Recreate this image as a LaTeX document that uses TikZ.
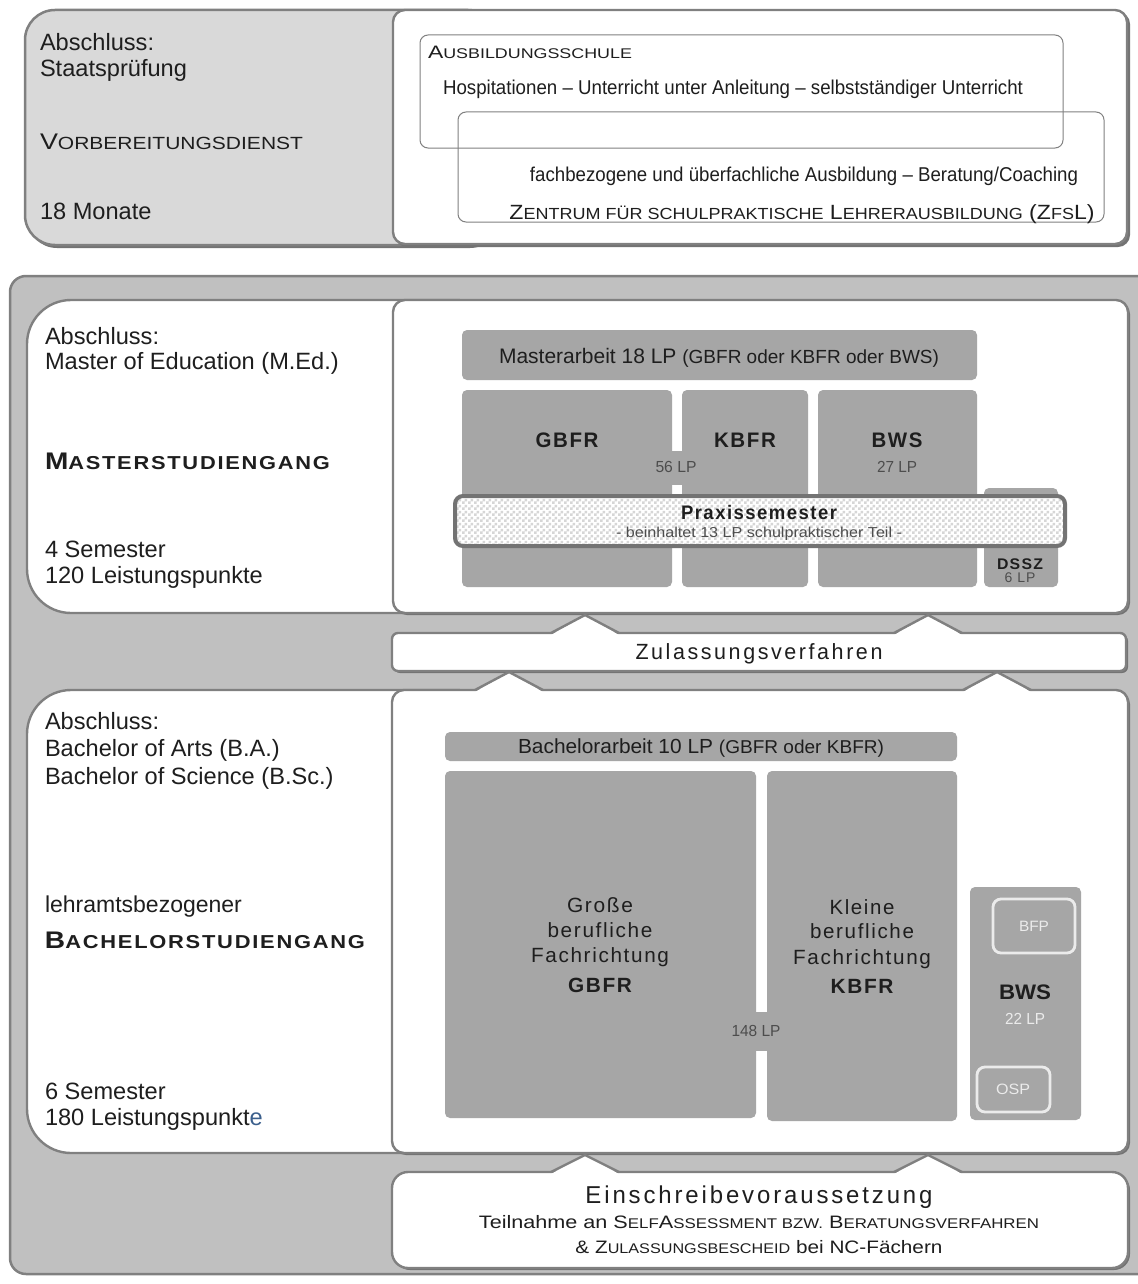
\documentclass[tikz,border=0pt]{standalone}
\usepackage{fontspec}
\setmainfont{Liberation Sans}
\newfontfamily\spacedA[LetterSpace=8]{Liberation Sans}
\newfontfamily\spacedB[LetterSpace=12]{Liberation Sans}
\usepackage{graphicx}
\usetikzlibrary{patterns}
\pgfdeclarepatternformonly{finecheck}{\pgfpointorigin}{\pgfpoint{3pt}{3pt}}{\pgfpoint{3pt}{3pt}}{%
  \pgfpathrectangle{\pgfpointorigin}{\pgfpoint{1.5pt}{1.5pt}}%
  \pgfpathrectangle{\pgfpoint{1.5pt}{1.5pt}}{\pgfpoint{1.5pt}{1.5pt}}%
  \pgfusepath{fill}}
\definecolor{panelgray}{HTML}{C0C0C0}
\definecolor{topgray}{HTML}{D9D9D9}
\definecolor{blk}{HTML}{A6A6A6}
\definecolor{edge}{HTML}{808080}
\definecolor{ink}{HTML}{1E1E1E}
\definecolor{lpgray}{HTML}{4D4D4D}
\definecolor{lplight}{HTML}{EBEBEB}
\definecolor{blueE}{HTML}{3B5F8C}
\newcommand\sm[1]{\scalebox{0.78}{#1}}
\newcommand\fw[2]{\resizebox{#1}{\height}{#2}}
\newcommand\fs[1]{\fontsize{#1}{#1}\selectfont}
\newcommand\bx[7][]{\node[#1, minimum width={(#5-#3)*0.5pt}, minimum height={(#6-#4)*0.5pt}, inner sep=0pt, outer sep=0pt] (#2) at ({(#3+#5)/2},{(#4+#6)/2}) {#7};}
\tikzset{
  graypart/.style={fill=topgray, draw=edge, line width=1.25pt, rounded corners=15pt},
  whitebox/.style={fill=white, draw=edge, line width=1.2pt, rounded corners=#1},
  whitebox/.default=6pt,
  dropsh/.style={fill=black!55, draw=none, rounded corners=#1},
  dropsh/.default=6pt,
  panelst/.style={fill=panelgray, draw=edge, line width=1.25pt, rounded corners=8pt},
  thinbox/.style={draw=edge, line width=0.5pt, rounded corners=4pt},
  block/.style={fill=blk, rounded corners=2.5pt},
  praxis/.style={preaction={fill=white}, pattern=finecheck, pattern color=black!16, draw=black!55, line width=2pt, rounded corners=4pt},
  inbox/.style={fill=blk, draw=lplight, line width=1.4pt, rounded corners=4pt},
  tri/.style={draw=edge, line width=1.2pt, line join=miter},
  lbl/.style={inner sep=0pt, outer sep=0pt, text depth=0pt, text=ink},
}
\newcommand\tri[3]{\fill[white] ({#1-34},{#3+2}) -- (#1,#2) -- ({#1+34},{#3+2}) -- cycle;
  \draw[tri] ({#1-34},#3) -- (#1,#2) -- ({#1+34},#3);}
\begin{document}
\begin{tikzpicture}[x=0.5pt,y=-0.5pt]
\useasboundingbox (0,0) rectangle (1137,1284);
\fill[white] (0,0) rectangle (1137,1284);

% ---------- Vorbereitungsdienst ----------
\bx[dropsh=15pt]{tlsh}{27}{12}{500}{248}{}
\bx[graypart]{tl}{25}{10}{498}{245}{}
\bx[dropsh]{trsh}{395}{12}{1130}{247}{}
\bx[whitebox]{tr}{393}{10}{1127}{244}{}
\bx[thinbox]{ausb}{420}{35}{1063}{148}{}
\bx[thinbox]{zfsl}{458}{112}{1104}{222}{}

\node[lbl, anchor=west, font=\fs{11.8}] (t1) at (40,42) {Abschluss:};
\node[lbl, anchor=west, font=\fs{11.8}] (t2) at (40,68) {Staatsprüfung};
\node[lbl, anchor=west, font=\fs{11.3}] (t3) at (40,142) {\fw{131.5pt}{V\sm{ORBEREITUNGSDIENST}}};
\node[lbl, anchor=west, font=\fs{11.8}] (t4) at (40,211) {18 Monate};

\node[lbl, anchor=west, font=\fs{9}] (ausbt) at (428,52) {\fw{102pt}{A\sm{USBILDUNGSSCHULE}}};
\node[lbl, font=\fs{10}] (hosp) at (733,87) {\fw{290pt}{Hospitationen – Unterricht unter Anleitung – selbstständiger Unterricht}};
\node[lbl, font=\fs{10}] (fach) at (804,174) {\fw{274pt}{fachbezogene und überfachliche Ausbildung – Beratung/Coaching}};
\node[lbl, font=\fs{10.3}] (zent) at (802,212) {\fw{292.5pt}{Z\sm{ENTRUM FÜR SCHULPRAKTISCHE} L\sm{EHRERAUSBILDUNG} (Z\sm{FS}L)}};

% ---------- big panel ----------
\bx[panelst]{panel}{10}{276}{1170}{1274}{}

% ---------- Master ----------
\bx[whitebox=22pt]{mleft}{27}{300}{500}{613}{}
\bx[dropsh]{mrsh}{395}{302}{1130}{615}{}
\bx[whitebox]{mright}{393}{300}{1128}{613}{}

\node[lbl, anchor=west, font=\fs{11.8}] (m1) at (45,336) {Abschluss:};
\node[lbl, anchor=west, font=\fs{11.8}] (m2) at (45,361) {Master of Education (M.Ed.)};
\node[lbl, anchor=west, font=\fs{12}] (m3) at (45,461) {\fw{142.5pt}{\spacedA\bfseries M\sm{ASTERSTUDIENGANG}}};
\node[lbl, anchor=west, font=\fs{11.8}] (m4) at (45,549) {4 Semester};
\node[lbl, anchor=west, font=\fs{11.8}] (m5) at (45,575) {120 Leistungspunkte};

\bx[block]{marb}{462}{330}{977}{380}{}
\bx[block]{mg}{462}{390}{672}{587}{}
\bx[block]{mk}{682}{390}{808}{587}{}
\bx[block]{mb}{818}{390}{977}{587}{}
\bx[block, rounded corners=0pt]{mgap}{670}{451}{684}{485}{}
\bx[block]{mdssz}{984}{488}{1058}{587}{}
\bx[praxis]{praxis}{455}{496}{1065}{546}{}

\node[lbl, font=\fs{10.5}] (marbt) at (719,356) {\fw{220pt}{Masterarbeit 18 LP {\fs{9.5}(GBFR oder KBFR oder BWS)}}};
\node[lbl, font=\fs{10.5}] (mgt) at (567,440) {\fw{31.5pt}{\spacedA\bfseries GBFR}};
\node[lbl, font=\fs{10.5}] (mkt) at (745,440) {\fw{31pt}{\spacedA\bfseries KBFR}};
\node[lbl, font=\fs{10.5}] (mbt) at (897,440) {\fw{25.5pt}{\spacedA\bfseries BWS}};
\node[lbl, font=\fs{8}, text=lpgray] (m56) at (676,467) {\fw{20.5pt}{56 LP}};
\node[lbl, font=\fs{8}, text=lpgray] (m27) at (897,467) {\fw{20pt}{27 LP}};
\node[lbl, font=\fs{9.8}] (prt) at (759,512) {\fw{78pt}{\spacedA\bfseries Praxissemester}};
\node[lbl, font=\fs{7.2}, text=lpgray] (prs) at (759,532) {\fw{143pt}{- beinhaltet 13 LP schulpraktischer Teil -}};
\node[lbl, font=\fs{7.7}] (dst) at (1020,564) {\fw{23pt}{\spacedA\bfseries DSSZ}};
\node[lbl, font=\fs{7}, text=lpgray] (dsl) at (1020,578) {\fw{15.5pt}{\spacedA 6 LP}};

% ---------- Zulassungsverfahren ----------
\bx[dropsh=3pt]{zsh}{394}{635}{1128}{673}{}
\bx[whitebox=3pt]{zul}{392}{633}{1126}{671}{}
\node[lbl, font=\fs{11}] (zult) at (759,652) {\fw{123.5pt}{\spacedB Zulassungsverfahren}};

% ---------- Bachelor ----------
\bx[whitebox=22pt]{bleft}{27}{690}{500}{1153}{}
\bx[dropsh]{brsh}{394}{692}{1130}{1155}{}
\bx[whitebox]{bright}{392}{690}{1128}{1153}{}

\node[lbl, anchor=west, font=\fs{11.8}] (b1) at (45,721) {Abschluss:};
\node[lbl, anchor=west, font=\fs{11.8}] (b2) at (45,748) {Bachelor of Arts (B.A.)};
\node[lbl, anchor=west, font=\fs{11.8}] (b3) at (45,776) {Bachelor of Science (B.Sc.)};
\node[lbl, anchor=west, font=\fs{11.5}] (b4) at (45,904) {lehramtsbezogener};
\node[lbl, anchor=west, font=\fs{12}] (b5) at (45,940) {\fw{160pt}{\spacedA\bfseries B\sm{ACHELORSTUDIENGANG}}};
\node[lbl, anchor=west, font=\fs{11.8}] (b6) at (45,1091) {6 Semester};
\node[lbl, anchor=west, font=\fs{11.8}] (b7) at (45,1117) {180 Leistungspunkt\textcolor{blueE}{e}};

\bx[block]{barb}{445}{732}{957}{761}{}
\bx[block]{bg}{445}{771}{756}{1118}{}
\bx[block]{bk}{767}{771}{957}{1121}{}
\bx[block, rounded corners=0pt]{bgap}{754}{1012}{769}{1051}{}
\bx[block]{bbws}{970}{887}{1081}{1120}{}
\bx[inbox]{bfp}{993}{899}{1075}{953}{}
\bx[inbox]{osp}{977}{1067}{1050}{1112}{}

\node[lbl, font=\fs{10.2}] (barbt) at (701,746) {\fw{183pt}{Bachelorarbeit 10 LP {\fs{9.3}(GBFR oder KBFR)}}};
\node[lbl, font=\fs{10.3}] (bg1) at (600,905) {\fw{33pt}{\spacedA Große}};
\node[lbl, font=\fs{10.3}] (bg2) at (600,930) {\fw{52.5pt}{\spacedA berufliche}};
\node[lbl, font=\fs{10.3}] (bg3) at (600,955) {\fw{69pt}{\spacedA Fachrichtung}};
\node[lbl, font=\fs{10.3}] (bg4) at (600,985) {\fw{32pt}{\spacedA\bfseries GBFR}};
\node[lbl, font=\fs{10.3}] (bk1) at (862,907) {\fw{32.5pt}{\spacedA Kleine}};
\node[lbl, font=\fs{10.3}] (bk2) at (862,931) {\fw{52pt}{\spacedA berufliche}};
\node[lbl, font=\fs{10.3}] (bk3) at (862,957) {\fw{69pt}{\spacedA Fachrichtung}};
\node[lbl, font=\fs{10.3}] (bk4) at (862,986) {\fw{31.5pt}{\spacedA\bfseries KBFR}};
\node[lbl, font=\fs{8}, text=lpgray] (b148) at (756,1031) {\fw{24.5pt}{148 LP}};
\node[lbl, font=\fs{10.5}] (bbwst) at (1025,992) {\fw{26pt}{\bfseries BWS}};
\node[lbl, font=\fs{8}, text=lplight] (b22) at (1025,1019) {\fw{20pt}{22 LP}};
\node[lbl, font=\fs{7.5}, text=lplight] (bfpt) at (1034,926) {\fw{15pt}{BFP}};
\node[lbl, font=\fs{7.5}, text=lplight] (ospt) at (1013,1089) {\fw{17pt}{OSP}};

% ---------- Einschreibevoraussetzung ----------
\bx[dropsh=8pt]{esh}{394}{1174}{1130}{1270}{}
\bx[whitebox=8pt]{ein}{392}{1172}{1128}{1268}{}
\node[lbl, font=\fs{12.2}] (e1) at (759,1195) {\fw{173.5pt}{\spacedB Einschreibevoraussetzung}};
\node[lbl, font=\fs{9}] (e2) at (759,1222) {\fw{280pt}{Teilnahme an S\sm{ELF}A\sm{SSESSMENT BZW.} B\sm{ERATUNGSVERFAHREN}}};
\node[lbl, font=\fs{9}] (e3) at (759,1247) {\fw{183.5pt}{\& Z\sm{ULASSUNGSBESCHEID} bei NC-Fächern}};

% ---------- triangles ----------
\tri{585}{615}{633}
\tri{928}{615}{633}
\tri{509}{672}{690}
\tri{997}{672}{690}
\tri{585}{1155}{1172}
\tri{928}{1155}{1172}
\end{tikzpicture}
\end{document}
